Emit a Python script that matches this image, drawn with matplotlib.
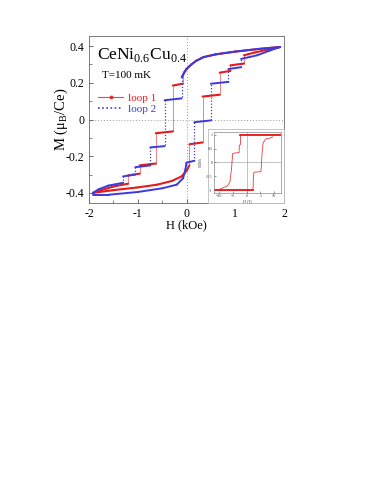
import numpy as np
import matplotlib
matplotlib.use("Agg")
import matplotlib.pyplot as plt
from matplotlib.collections import LineCollection
from matplotlib.lines import Line2D
from matplotlib.patches import Rectangle

plt.rcParams['font.family'] = ['Liberation Serif', 'DejaVu Serif']

# ---------------- data (H in kOe, M in muB/Ce) ----------------
loop1_desc_H = [1.92, 1.5, 1.0, 0.6, 0.35, 0.2, 0.1, 0.0, -0.05, -0.08, -0.08, -0.28, -0.28, -0.63, -0.63,
                -0.96, -0.96, -1.2, -1.2, -1.5, -1.75, -1.92]
loop1_desc_M = [0.395, 0.385, 0.37, 0.355, 0.34, 0.32, 0.30, 0.275, 0.255, 0.235, 0.195, 0.185, -0.065, -0.075,
                -0.24, -0.25, -0.295, -0.305, -0.35, -0.365, -0.385, -0.40]
loop1_asc_H = [-1.92, -1.5, -1.0, -0.6, -0.3, -0.1, 0.0, 0.06, 0.06, 0.33, 0.33, 0.68, 0.68, 0.9, 0.9,
               1.18, 1.18, 1.4, 1.65, 1.92]
loop1_asc_M = [-0.40, -0.385, -0.37, -0.355, -0.335, -0.31, -0.28, -0.25, -0.135, -0.125, 0.125, 0.135,
               0.255, 0.265, 0.295, 0.305, 0.35, 0.365, 0.38, 0.395]

loop2_desc_H = [1.92, 1.5, 1.0, 0.6, 0.35, 0.2, 0.1, 0.0, -0.05, -0.1, -0.1, -0.45, -0.45, -0.74, -0.74,
                -1.05, -1.05, -1.3, -1.3, -1.6, -1.8, -1.92]
loop2_desc_M = [0.395, 0.385, 0.37, 0.355, 0.34, 0.32, 0.30, 0.275, 0.255, 0.23, 0.115, 0.105, -0.145, -0.152,
                -0.25, -0.26, -0.30, -0.31, -0.345, -0.36, -0.38, -0.40]
loop2_asc_H = [-1.92, -1.6, -1.0, -0.5, -0.2, -0.07, -0.02, 0.0, 0.16, 0.16, 0.5, 0.5, 0.86, 0.86,
               1.12, 1.12, 1.45, 1.7, 1.92]
loop2_asc_M = [-0.41, -0.41, -0.395, -0.375, -0.355, -0.32, -0.27, -0.235, -0.225, -0.015, -0.005, 0.195,
               0.205, 0.275, 0.285, 0.33, 0.35, 0.375, 0.395]

# inset (H in T, M/Ms)
inset_desc_H = [12.5, -2.2, -2.2, -2.6, -2.7, -5.0, -5.2, -5.5, -5.7, -6.0, -7.0, -9.0, -10.5, -12.5]
inset_desc_M = [1.0, 1.0, 0.65, 0.62, 0.36, 0.33, 0.1, -0.3, -0.4, -0.7, -0.85, -0.93, -1.0, -1.0]
inset_asc_H = [-12.5, 2.2, 2.4, 2.5, 2.8, 5.2, 5.4, 5.6, 6.0, 6.3, 7.0, 8.5, 9.5]
inset_asc_M = [-1.0, -1.0, -0.9, -0.4, -0.35, -0.33, -0.1, 0.3, 0.7, 0.75, 0.85, 0.88, 0.92]

xticks = [-2, -1, 0, 1, 2]
yticks = [-0.4, -0.2, 0, 0.2, 0.4]
ytick_labels = ['-0.4', '-0.2', '0', '0.2', '0.4']
inset_xticks = [-10, -5, 0, 5, 10]
inset_yticks = [-1, -0.5, 0, 0.5, 1]

RED = '#e51a1a'
BLUE = '#3a3ae0'

W, Hpx = 382, 494
fig = plt.figure(figsize=(W / 100, Hpx / 100), dpi=100)


def box(x0, y0, x1, y1):
    return [x0 / W, 1 - y1 / Hpx, (x1 - x0) / W, (y1 - y0) / Hpx]


ax = fig.add_axes(box(89, 36, 284, 203))
ax.set_xlim(-2, 2)
ax.set_ylim(-0.455, 0.455)
ax.axhline(0, color='#999999', lw=0.7, ls=(0, (1, 2)), zorder=0)
ax.axvline(0, color='#999999', lw=0.7, ls=(0, (1, 2)), zorder=0)


def draw_branch(a, H, M, color, thick, thin, vstyle, z):
    H = np.asarray(H, float)
    M = np.asarray(M, float)
    pts = np.column_stack([H, M])
    segs_h, segs_v = [], []
    for i in range(len(H) - 1):
        seg = [pts[i], pts[i + 1]]
        if abs(H[i + 1] - H[i]) < 1e-9:
            segs_v.append(seg)
        else:
            segs_h.append(seg)
    a.add_collection(LineCollection(segs_v, colors=color, linewidths=thin, linestyles=vstyle,
                                    alpha=0.55 if vstyle == '-' else 1.0, zorder=z))
    a.add_collection(LineCollection(segs_h, colors=color, linewidths=thick, capstyle='round',
                                    joinstyle='round', zorder=z + 0.5))


draw_branch(ax, loop1_desc_H, loop1_desc_M, RED, 1.5, 0.7, '-', 2)
draw_branch(ax, loop1_asc_H, loop1_asc_M, RED, 1.5, 0.7, '-', 2)
draw_branch(ax, loop2_desc_H, loop2_desc_M, BLUE, 1.4, 0.9, (0, (1, 1.5)), 3)
draw_branch(ax, loop2_asc_H, loop2_asc_M, BLUE, 1.4, 0.9, (0, (1, 1.5)), 3)

ax.set_xticks(xticks)
ax.set_xticklabels([str(t) for t in xticks])
ax.set_yticks(yticks)
ax.set_yticklabels(ytick_labels)
ax.set_xticks(np.arange(-1.5, 2, 1.0), minor=True)
ax.set_yticks(np.arange(-0.3, 0.4, 0.2), minor=True)
ax.tick_params(direction='in', labelsize=8.5, length=3, width=0.6, pad=3.5, color='#555555')
ax.tick_params(which='minor', direction='in', length=2, width=0.5, color='#555555')
for s in ax.spines.values():
    s.set_linewidth(0.6)
    s.set_color('#666666')

ax.set_xlabel('H (kOe)', fontsize=9)
ax.xaxis.set_label_coords(0.5, -0.095)
ax.set_ylabel(r'M (μ$_{\mathregular{B}}$/Ce)', fontsize=10.5)
ax.yaxis.set_label_coords(-0.1, 0.5)

ax.text(0.04, 0.94, r'CeNi$_{\mathregular{0.6}}$Cu$_{\mathregular{0.4}}$', transform=ax.transAxes,
        fontsize=12.5, va='top', ha='left')
ax.text(0.065, 0.765, 'T=100 mK', transform=ax.transAxes, fontsize=8, va='center', ha='left')

h1 = Line2D([], [], color=RED, lw=0.8, marker='o', ms=1.8, alpha=0.8)
h2 = Line2D([], [], color=BLUE, lw=1.2, ls=(0, (1, 1.5)))
leg = ax.legend([h1, h2], ['loop 1', 'loop 2'], loc='upper left', bbox_to_anchor=(0.045, 0.66),
                frameon=False, fontsize=8, handlelength=2.3, handletextpad=0.4, labelspacing=0.15,
                borderaxespad=0, borderpad=0, labelcolor=[RED, BLUE])

# inset
fig.patches.append(Rectangle((208 / W, 1 - 203 / Hpx), (284 - 208) / W, (203 - 129) / Hpx,
                             transform=fig.transFigure, facecolor='white', edgecolor='#bbbbbb',
                             lw=0.6, zorder=5))
axi = fig.add_axes(box(214, 132, 281, 193))
axi.set_zorder(6)
axi.set_xlim(-11.8, 12.5)
axi.set_ylim(-1.1, 1.1)
axi.axhline(0, color='#aaaaaa', lw=0.5, zorder=0)
axi.axvline(0, color='#aaaaaa', lw=0.5, zorder=0)
axi.plot(inset_desc_H, inset_desc_M, color=RED, lw=0.6, alpha=0.85)
axi.plot(inset_asc_H, inset_asc_M, color=RED, lw=0.6, alpha=0.85)
axi.plot(inset_desc_H[:2], inset_desc_M[:2], color=RED, lw=1.3)
axi.plot(inset_asc_H[:2], inset_asc_M[:2], color=RED, lw=1.3)
axi.set_xticks(inset_xticks)
axi.set_yticks(inset_yticks)
axi.set_yticklabels(['-1', '-0.5', '0', '0.5', '1'])
axi.tick_params(direction='in', labelsize=3, length=1.5, width=0.4, pad=1, colors='#444444')
for s in axi.spines.values():
    s.set_linewidth(0.5)
    s.set_color('#888888')
axi.set_xlabel('H (T)', fontsize=3, labelpad=0.5, color='#444444')
axi.set_ylabel(r'M/M$_{\mathregular{s}}$', fontsize=3, labelpad=0.5, color='#444444')

fig.savefig('out.png', dpi=100)
